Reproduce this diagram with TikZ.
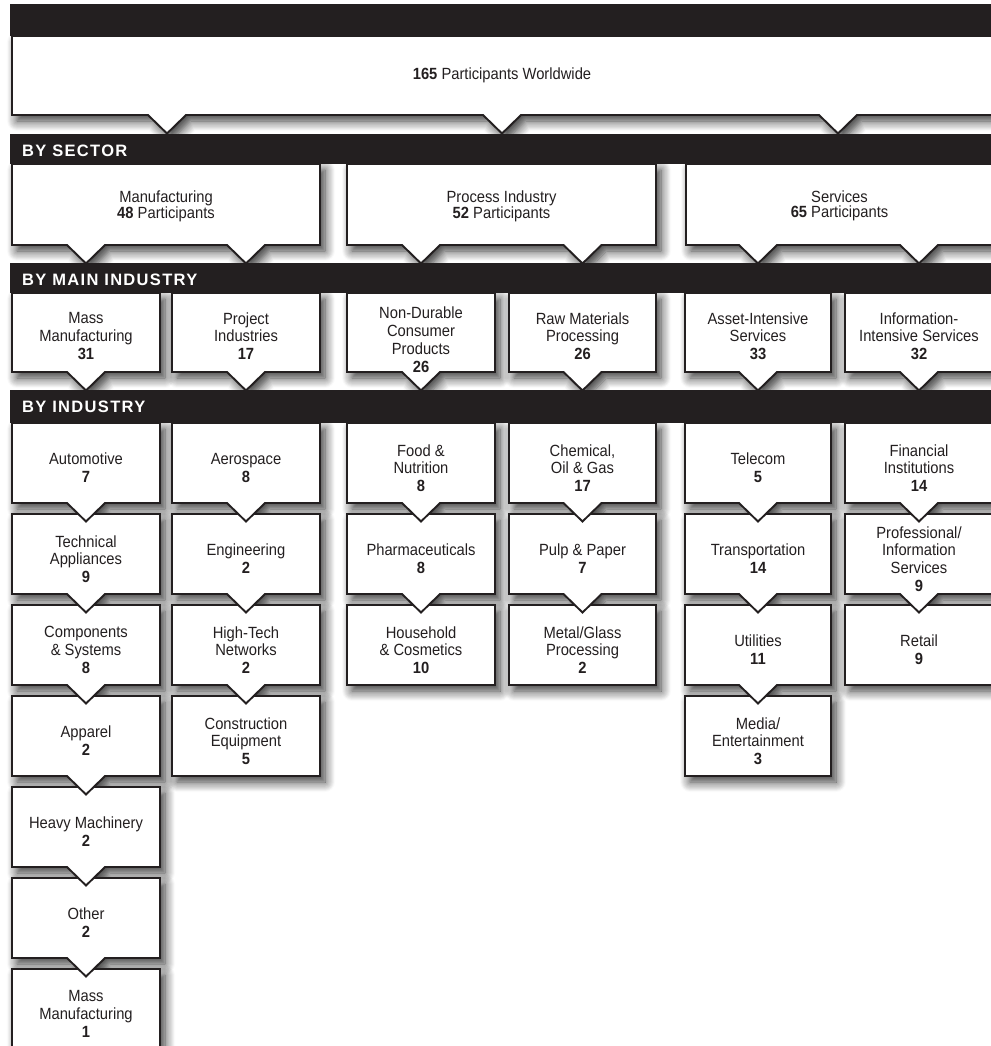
\documentclass[tikz,border=0pt]{standalone}
\usepackage{fontspec}
\setmainfont{Liberation Sans}[FakeStretch=0.91]
\newfontfamily\bandfont{Liberation Sans}[LetterSpace=8]
\usetikzlibrary{shadows.blur}
\definecolor{ink}{HTML}{231F20}

\tikzset{
  x=1bp, y=-1bp,
  panel/.style={fill=white, draw=ink, line width=1.9bp, line join=miter},
  panelshadow/.style={blur shadow={shadow xshift=5bp, shadow yshift=-6bp,
      shadow blur radius=10bp, shadow blur steps=10, shadow opacity=80}},
  band/.style={fill=ink},
  bandlabel/.style={anchor=west, text=white, inner sep=0pt,
      font=\bandfont\bfseries\fontsize{16.5bp}{18bp}\selectfont},
  lbl/.style={align=center, text=ink, inner sep=0pt, text depth=0pt,
      font=\fontsize{16.2bp}{17.8bp}\selectfont},
  seclbl/.style={lbl, font=\fontsize{16.2bp}{15bp}\selectfont},
}

% box with pointers on its lower edge (pointer centres listed right to left)
\newcommand\notchbox[6]{%
  \path[#1] (#2,#3) -- (#4,#3) -- (#4,#5)
    \foreach \c in {#6} { -- (\c+19,#5) -- (\c,#5+18.5) -- (\c-19,#5) }
    -- (#2,#5) -- cycle;}
% plain box
\newcommand\flatbox[5]{\path[#1] (#2,#3) rectangle (#4,#5);}

% industry boxes: style, left, right, row
\newcommand\ibox[4]{%
  \pgfmathsetmacro\yt{423+91*#4}\pgfmathsetmacro\yb{\yt+80}%
  \pgfmathsetmacro\xm{(#2+#3)/2}%
  \notchbox{#1}{#2}{\yt}{#3}{\yb}{\xm}}
\newcommand\iend[4]{%
  \pgfmathsetmacro\yt{423+91*#4}\pgfmathsetmacro\yb{\yt+80}%
  \flatbox{#1}{#2}{\yt}{#3}{\yb}}

% every box, lowest rows first so pointers overlap the box beneath
\newcommand\allpanels[1]{%
  \iend{#1}{12}{160}{6}
  \ibox{#1}{12}{160}{5}
  \ibox{#1}{12}{160}{4}
  \ibox{#1}{12}{160}{3}
  \iend{#1}{172}{320}{3}
  \iend{#1}{347}{495}{2}
  \iend{#1}{509}{656}{2}
  \iend{#1}{685}{831}{3}
  \iend{#1}{845}{993}{2}
  \foreach \r in {2,1,0} {
    \ibox{#1}{12}{160}{\r}
    \ibox{#1}{172}{320}{\r}
    \ibox{#1}{685}{831}{\r}
  }
  \foreach \r in {1,0} {
    \ibox{#1}{347}{495}{\r}
    \ibox{#1}{509}{656}{\r}
    \ibox{#1}{845}{993}{\r}
  }
  % main industries
  \notchbox{#1}{12}{293}{160}{372}{86}
  \notchbox{#1}{172}{293}{320}{372}{246}
  \notchbox{#1}{347}{293}{495}{372}{421}
  \notchbox{#1}{509}{293}{656}{372}{582.5}
  \notchbox{#1}{685}{293}{831}{372}{758}
  \notchbox{#1}{845}{293}{993}{372}{919}
  % sectors
  \notchbox{#1}{12}{164}{320}{245}{246,86}
  \notchbox{#1}{347}{164}{656}{245}{582.5,421}
  \notchbox{#1}{686}{164}{993}{245}{919,758}
  % all participants
  \notchbox{#1}{12}{36}{993}{115}{838,502,167}
}

\begin{document}
\begin{tikzpicture}
\useasboundingbox (0,0) rectangle (991,1046);
\clip (0,0) rectangle (991,1046);

% soft shadows first
\allpanels{panelshadow}

% black level bands
\fill[band] (10,4) rectangle (995,36);
\fill[band] (10,134) rectangle (995,164);
\fill[band] (10,263) rectangle (995,293);
\fill[band] (10,390) rectangle (995,423);

% white boxes
\allpanels{panel}

% band titles
\node[bandlabel] (hsector) at (22,151) {BY SECTOR};
\node[bandlabel] (hmain) at (22,280) {BY MAIN INDUSTRY};
\node[bandlabel] (hind) at (22,406.5) {BY INDUSTRY};

% totals
\node[lbl] (total) at (502,74) {\textbf{165} Participants Worldwide};

\node[seclbl] (manu) at (166,204.5) {Manufacturing\\\textbf{48} Participants};
\node[seclbl] (proc) at (501.5,204.5) {Process Industry\\\textbf{52} Participants};
\node[seclbl] (serv) at (839.5,204.5) {Services\\\textbf{65} Participants};

\node[lbl] (massm) at (86,336) {Mass\\Manufacturing\\\textbf{31}};
\node[lbl] (proj) at (246,336) {Project\\Industries\\\textbf{17}};
\node[lbl] (nondur) at (421,339.5) {Non-Durable\\Consumer\\Products\\\textbf{26}};
\node[lbl] (raw) at (582.5,336) {Raw Materials\\Processing\\\textbf{26}};
\node[lbl] (asset) at (758,336) {Asset-Intensive\\Services\\\textbf{33}};
\node[lbl] (info) at (919,336) {Information-\\Intensive Services\\\textbf{32}};

% industries, column 1
\node[lbl] (auto) at (86,468) {Automotive\\\textbf{7}};
\node[lbl] (tech) at (86,559) {Technical\\Appliances\\\textbf{9}};
\node[lbl] (comp) at (86,650) {Components\\\& Systems\\\textbf{8}};
\node[lbl] (appa) at (86,741) {Apparel\\\textbf{2}};
\node[lbl] (heavy) at (86,832) {Heavy Machinery\\\textbf{2}};
\node[lbl] (other) at (86,923) {Other\\\textbf{2}};
\node[lbl] (mass1) at (86,1014) {Mass\\Manufacturing\\\textbf{1}};
% column 2
\node[lbl] (aero) at (246,468) {Aerospace\\\textbf{8}};
\node[lbl] (eng) at (246,559) {Engineering\\\textbf{2}};
\node[lbl] (hitech) at (246,650) {High-Tech\\Networks\\\textbf{2}};
\node[lbl] (constr) at (246,741) {Construction\\Equipment\\\textbf{5}};
% column 3
\node[lbl] (food) at (421,468) {Food \&\\Nutrition\\\textbf{8}};
\node[lbl] (pharma) at (421,559) {Pharmaceuticals\\\textbf{8}};
\node[lbl] (house) at (421,650) {Household\\\& Cosmetics\\\textbf{10}};
% column 4
\node[lbl] (chem) at (582.5,468) {Chemical,\\Oil \& Gas\\\textbf{17}};
\node[lbl] (pulp) at (582.5,559) {Pulp \& Paper\\\textbf{7}};
\node[lbl] (metal) at (582.5,650) {Metal/Glass\\Processing\\\textbf{2}};
% column 5
\node[lbl] (tele) at (758,468) {Telecom\\\textbf{5}};
\node[lbl] (trans) at (758,559) {Transportation\\\textbf{14}};
\node[lbl] (util) at (758,650) {Utilities\\\textbf{11}};
\node[lbl] (media) at (758,741) {Media/\\Entertainment\\\textbf{3}};
% column 6
\node[lbl] (fin) at (919,468) {Financial\\Institutions\\\textbf{14}};
\node[lbl] (prof) at (919,559) {Professional/\\Information\\Services\\\textbf{9}};
\node[lbl] (retail) at (919,650) {Retail\\\textbf{9}};
\end{tikzpicture}
\end{document}
